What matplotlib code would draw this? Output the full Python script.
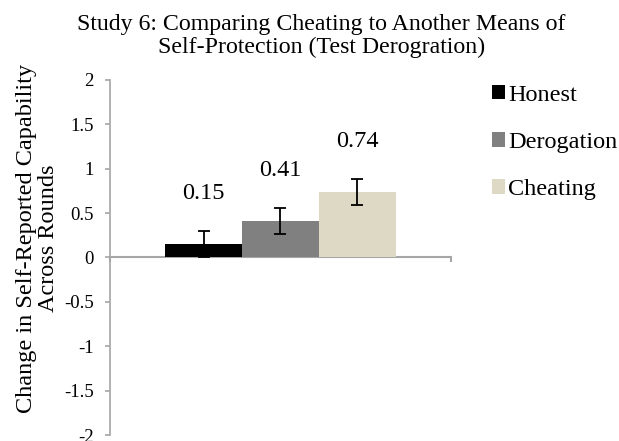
import numpy as np
import matplotlib
matplotlib.use("Agg")
import matplotlib.pyplot as plt

# values
groups = ["Honest", "Derogation", "Cheating"]
means = [0.15, 0.41, 0.74]
errors = [0.15, 0.15, 0.15]
colors = ["#000000", "#808080", "#DDD9C4"]
yticks = [-2, -1.5, -1, -0.5, 0, 0.5, 1, 1.5, 2]
ytick_labels = ["-2", "-1.5", "-1", "-0.5", "0", "0.5", "1", "1.5", "2"]

plt.rcParams["font.family"] = ["Liberation Serif", "DejaVu Serif"]
axis_grey = "#A6A6A6"

fig = plt.figure(figsize=(6.19, 4.41), dpi=100)
ax = fig.add_axes([0.1777, 0.0136, 0.5509, 0.805])

width = 0.225
offsets = (np.arange(len(groups)) - 1) * width
for i, g in enumerate(groups):
    ax.bar(offsets[i], means[i], width=width, color=colors[i], label=g, zorder=2)
    ax.errorbar(offsets[i], means[i], yerr=errors[i], fmt="none", ecolor="black",
                elinewidth=1.3, capsize=4.5, capthick=1.3, zorder=3)
    ax.text(offsets[i], means[i] + errors[i] + 0.42, f"{means[i]:.2f}",
            ha="center", va="center", fontsize=17.5)

ax.set_xlim(-0.5, 0.5)
ax.set_ylim(-2, 2)
ax.set_yticks(yticks)
ax.set_yticklabels(ytick_labels, fontsize=13.5)
ax.set_xticks([-0.5, 0.5])
ax.set_xticklabels([])

for s in ["top", "right"]:
    ax.spines[s].set_visible(False)
ax.spines["bottom"].set_position(("data", 0))
ax.spines["bottom"].set_color(axis_grey)
ax.spines["left"].set_color(axis_grey)
ax.spines["bottom"].set_linewidth(1.5)
ax.spines["left"].set_linewidth(1.2)
ax.spines["bottom"].set_zorder(1)
ax.tick_params(axis="y", direction="out", length=3.6, width=1.2, color=axis_grey, pad=8)
ax.tick_params(axis="x", direction="out", length=3.6, width=1.5, color=axis_grey)

fig.text(0.06, 0.459, "Change in Self-Reported Capability\nAcross Rounds",
         rotation=90, ha="center", va="center", fontsize=17.5, linespacing=1.05)

fig.text(0.519, 0.918, "Study 6: Comparing Cheating to Another Means of\nSelf-Protection (Test Derogration)",
         ha="center", va="center", fontsize=17.2, linespacing=1.13)

fig.legend(loc="upper left", bbox_to_anchor=(0.779, 0.83), frameon=False,
           fontsize=17.5, handlelength=0.55, handleheight=0.55, handletextpad=0.12,
           labelspacing=1.08, borderaxespad=0)

fig.savefig("out.png", dpi=100)
